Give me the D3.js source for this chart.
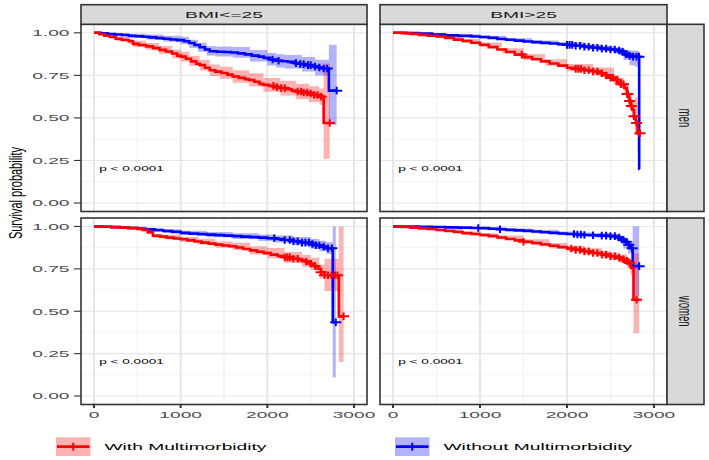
<!DOCTYPE html>
<html>
<head>
<meta charset="utf-8">
<script src="https://cdn.jsdelivr.net/npm/d3@7"></script>
<style>
  body { margin: 0; background: #fff; }
  text { font-family: "Liberation Sans", Arial, sans-serif; }
</style>
</head>
<body>
<svg id="chart" width="709" height="460"></svg>
<script>
// facet labels
var colLabels = ["BMI<=25", "BMI>25"];
var rowLabels = ["men", "women"];
var groupLabels = ["With Multimorbidity", "Without Multimorbidity"];
var groupColors = ["#FF0000", "#0000FF"];
var xTicks = [0, 1000, 2000, 3000];
var yTicks = [0, 0.25, 0.5, 0.75, 1];
var pText = "p < 0.0001";

// ---- BMI<=25, men, with multimorbidity
var leanMenMultiT = [0, 60, 120, 180, 250, 320, 400, 450, 520, 600, 680, 757, 830, 900, 960, 1000, 1060, 1120, 1180, 1220, 1280, 1335, 1400, 1470, 1540, 1600, 1670, 1740, 1790, 1850, 1910, 1955, 2020, 2090, 2150, 2220, 2280, 2330, 2400, 2470, 2540, 2600, 2650];
var leanMenMultiS = [1, .992, .983, .975, .965, .958, .95, .935, .928, .92, .91, .90, .89, .878, .866, .86, .848, .832, .818, .81, .795, .78, .772, .764, .754, .743, .735, .728, .723, .712, .700, .694, .688, .681, .675, .668, .661, .655, .649, .643, .635, .625, .47];
var leanMenMultiBT = [0, 100, 250, 400, 450, 600, 750, 900, 1000, 1100, 1220, 1335, 1450, 1600, 1790, 1955, 2150, 2330, 2480, 2600, 2650];
var leanMenMultiLo = [1, .977, .952, .933, .917, .90, .877, .849, .832, .805, .778, .746, .730, .706, .684, .653, .632, .610, .594, .577, .26];
var leanMenMultiHi = [1, .993, .978, .967, .953, .94, .923, .901, .888, .865, .842, .814, .80, .78, .762, .735, .718, .70, .686, .673, .82];
var leanMenMultiCens = [2070, 2110, 2160, 2200, 2350, 2390, 2420, 2460, 2500, 2540, 2580, 2620, 2720];
var leanMenMultiEnd = 2720;

// ---- BMI<=25, men, without
var leanMenNoneT = [0, 80, 160, 240, 320, 400, 480, 560, 640, 720, 800, 880, 960, 1040, 1100, 1160, 1220, 1280, 1335, 1420, 1500, 1580, 1660, 1740, 1820, 1900, 1960, 2030, 2100, 2170, 2240, 2310, 2380, 2450, 2520, 2590, 2650, 2710];
var leanMenNoneS = [1, .997, .993, .99, .987, .983, .98, .977, .973, .969, .965, .961, .957, .95, .94, .928, .915, .902, .892, .889, .887, .884, .879, .873, .866, .86, .853, .843, .836, .833, .829, .822, .816, .81, .802, .796, .79, .66];
var leanMenNoneBT = [0, 200, 400, 600, 800, 1000, 1100, 1200, 1300, 1400, 1600, 1800, 2000, 2100, 2200, 2400, 2550, 2710];
var leanMenNoneLo = [1, .982, .97, .96, .947, .933, .911, .889, .867, .861, .854, .831, .808, .796, .79, .772, .749, .46];
var leanMenNoneHi = [1, .998, .994, .99, .983, .977, .959, .941, .923, .919, .916, .899, .882, .874, .87, .858, .841, .93];
var leanMenNoneCens = [2060, 2130, 2330, 2380, 2420, 2470, 2500, 2550, 2600, 2650, 2690, 2800];
var leanMenNoneEnd = 2800;

// ---- BMI>25, men, with
var heavyMenMultiT = [0, 100, 200, 300, 400, 500, 600, 700, 800, 900, 1000, 1100, 1200, 1300, 1400, 1500, 1600, 1700, 1800, 1900, 2000, 2100, 2200, 2300, 2380, 2450, 2500, 2540, 2580, 2620, 2660, 2690, 2714, 2735, 2753, 2770, 2790, 2811];
var heavyMenMultiS = [1, .998, .994, .988, .983, .978, .97, .96, .952, .942, .93, .916, .902, .887, .872, .857, .845, .832, .82, .807, .795, .788, .78, .773, .762, .749, .736, .724, .712, .698, .675, .64, .6, .57, .547, .51, .47, .41];
var heavyMenMultiBT = [0, 200, 500, 800, 1000, 1250, 1500, 1750, 2000, 2300, 2540, 2600, 2660, 2710, 2750, 2780, 2811];
var heavyMenMultiLo = [1, .99, .97, .941, .917, .88, .84, .807, .774, .75, .698, .677, .643, .56, .497, .40, .30];
var heavyMenMultiHi = [1, .998, .986, .963, .943, .91, .874, .845, .816, .796, .75, .733, .707, .64, .597, .62, .60];
var heavyMenMultiCens = [1480, 2100, 2130, 2160, 2200, 2250, 2300, 2350, 2400, 2450, 2500, 2530, 2570, 2620, 2650, 2690, 2700, 2720, 2740, 2770, 2800, 2840];
var heavyMenMultiEnd = 2840;

// ---- BMI>25, men, without
var heavyMenNoneT = [0, 150, 300, 450, 600, 750, 900, 1000, 1100, 1200, 1300, 1400, 1500, 1600, 1700, 1800, 1900, 2000, 2100, 2200, 2300, 2400, 2500, 2560, 2610, 2650, 2700, 2760, 2830];
var heavyMenNoneS = [1, .998, .995, .99, .985, .982, .978, .975, .97, .964, .959, .954, .949, .945, .941, .937, .933, .929, .924, .918, .912, .907, .902, .896, .888, .875, .866, .86, .2];
var heavyMenNoneBT = [0, 300, 600, 1000, 1300, 1600, 1900, 2200, 2400, 2550, 2650, 2720, 2780, 2830];
var heavyMenNoneLo = [1, .991, .979, .967, .95, .935, .922, .905, .892, .878, .84, .81, .80, .2];
var heavyMenNoneHi = [1, .999, .991, .983, .968, .955, .944, .931, .922, .914, .9, .896, .895, .2];
var heavyMenNoneCens = [2000, 2030, 2060, 2100, 2150, 2200, 2250, 2300, 2350, 2400, 2450, 2500, 2550, 2600, 2640, 2680, 2720, 2760, 2800, 2828];
var heavyMenNoneEnd = 2835;

// ---- BMI<=25, women, with
var leanWomenMultiT = [0, 100, 200, 300, 400, 500, 560, 620, 680, 760, 840, 920, 1000, 1080, 1160, 1240, 1320, 1400, 1480, 1560, 1640, 1720, 1800, 1880, 1960, 2040, 2120, 2200, 2280, 2360, 2440, 2500, 2540, 2580, 2620, 2660, 2825];
var leanWomenMultiS = [1, .998, .996, .993, .99, .986, .98, .965, .945, .94, .934, .929, .925, .918, .911, .905, .899, .893, .888, .883, .876, .867, .859, .851, .843, .834, .826, .818, .81, .801, .793, .78, .767, .75, .73, .712, .47];
var leanWomenMultiBT = [0, 300, 560, 680, 800, 1000, 1200, 1400, 1600, 1800, 2000, 2200, 2400, 2500, 2600, 2660, 2825];
var leanWomenMultiLo = [1, .988, .972, .933, .925, .91, .893, .874, .862, .834, .813, .786, .762, .745, .695, .62, .2];
var leanWomenMultiHi = [1, .998, .988, .957, .951, .94, .927, .912, .904, .884, .873, .85, .832, .815, .775, .81, 1.0];
var leanWomenMultiCens = [2200, 2230, 2260, 2300, 2350, 2450, 2500, 2550, 2620, 2660, 2700, 2740, 2780, 2810, 2880];
var leanWomenMultiEnd = 2880;

// ---- BMI<=25, women, without
var leanWomenNoneT = [0, 100, 200, 300, 400, 500, 600, 700, 800, 900, 1000, 1100, 1200, 1300, 1400, 1500, 1600, 1700, 1800, 1900, 2000, 2100, 2200, 2300, 2400, 2500, 2560, 2620, 2680, 2755];
var leanWomenNoneS = [1, .998, .996, .994, .991, .987, .983, .978, .973, .968, .962, .958, .955, .952, .949, .946, .943, .94, .937, .934, .931, .926, .92, .913, .905, .897, .889, .881, .872, .435];
var leanWomenNoneBT = [0, 300, 600, 800, 1000, 1300, 1600, 1900, 2100, 2300, 2500, 2600, 2680, 2755];
var leanWomenNoneLo = [1, .989, .974, .962, .949, .937, .926, .915, .905, .888, .868, .854, .837, .11];
var leanWomenNoneHi = [1, .999, .992, .984, .975, .967, .96, .953, .947, .938, .926, .916, .907, 1.0];
var leanWomenNoneCens = [2080, 2200, 2260, 2300, 2350, 2400, 2440, 2480, 2520, 2560, 2600, 2650, 2700, 2745, 2790];
var leanWomenNoneEnd = 2790;

// ---- BMI>25, women, with
var heavyWomenMultiT = [0, 100, 200, 300, 400, 500, 600, 700, 800, 900, 1000, 1100, 1200, 1300, 1400, 1500, 1600, 1700, 1800, 1900, 2000, 2100, 2200, 2300, 2400, 2500, 2560, 2620, 2660, 2700, 2735, 2765];
var heavyWomenMultiS = [1, .997, .993, .989, .985, .979, .973, .967, .961, .956, .95, .943, .935, .926, .918, .91, .902, .894, .886, .878, .87, .862, .853, .844, .834, .824, .816, .806, .797, .784, .756, .568];
var heavyWomenMultiBT = [0, 200, 500, 800, 1000, 1200, 1500, 1800, 2000, 2200, 2400, 2500, 2600, 2690, 2730, 2765];
var heavyWomenMultiLo = [1, .989, .972, .952, .94, .923, .896, .87, .853, .834, .813, .802, .786, .756, .716, .37];
var heavyWomenMultiHi = [1, .997, .986, .97, .96, .947, .924, .902, .887, .872, .855, .846, .834, .816, .796, .84];
var heavyWomenMultiCens = [1500, 2050, 2100, 2150, 2200, 2250, 2300, 2350, 2400, 2450, 2500, 2550, 2600, 2650, 2690, 2720, 2800];
var heavyWomenMultiEnd = 2830;

// ---- BMI>25, women, without
var heavyWomenNoneT = [0, 150, 300, 450, 600, 750, 900, 1000, 1100, 1200, 1300, 1400, 1500, 1600, 1700, 1800, 1900, 2000, 2100, 2200, 2300, 2400, 2500, 2560, 2610, 2650, 2690, 2730, 2755];
var heavyWomenNoneS = [1, .999, .998, .997, .995, .993, .991, .99, .987, .984, .98, .977, .974, .97, .966, .962, .959, .956, .953, .95, .948, .946, .943, .935, .922, .91, .892, .872, .766];
var heavyWomenNoneBT = [0, 400, 800, 1000, 1300, 1600, 1900, 2100, 2300, 2500, 2600, 2650, 2700, 2755];
var heavyWomenNoneLo = [1, .994, .986, .984, .972, .96, .948, .941, .935, .929, .91, .87, .84, .59];
var heavyWomenNoneHi = [1, 1, .996, .996, .988, .98, .97, .965, .961, .957, .946, .932, .913, 1.0];
var heavyWomenNoneCens = [980, 1230, 2080, 2120, 2160, 2200, 2300, 2400, 2450, 2500, 2550, 2600, 2640, 2680, 2710, 2750, 2830];
var heavyWomenNoneEnd = 2830;

function curve(t, s, bt, lo, hi, cens, end, g) {
  return { t: t, s: s, bt: bt, lo: lo, hi: hi, cens: cens, end: end, g: g };
}

var panels = [
  { row: 0, col: 0, curves: [
    curve(leanMenNoneT, leanMenNoneS, leanMenNoneBT, leanMenNoneLo, leanMenNoneHi, leanMenNoneCens, leanMenNoneEnd, 1),
    curve(leanMenMultiT, leanMenMultiS, leanMenMultiBT, leanMenMultiLo, leanMenMultiHi, leanMenMultiCens, leanMenMultiEnd, 0)] },
  { row: 0, col: 1, curves: [
    curve(heavyMenNoneT, heavyMenNoneS, heavyMenNoneBT, heavyMenNoneLo, heavyMenNoneHi, heavyMenNoneCens, heavyMenNoneEnd, 1),
    curve(heavyMenMultiT, heavyMenMultiS, heavyMenMultiBT, heavyMenMultiLo, heavyMenMultiHi, heavyMenMultiCens, heavyMenMultiEnd, 0)] },
  { row: 1, col: 0, curves: [
    curve(leanWomenNoneT, leanWomenNoneS, leanWomenNoneBT, leanWomenNoneLo, leanWomenNoneHi, leanWomenNoneCens, leanWomenNoneEnd, 1),
    curve(leanWomenMultiT, leanWomenMultiS, leanWomenMultiBT, leanWomenMultiLo, leanWomenMultiHi, leanWomenMultiCens, leanWomenMultiEnd, 0)] },
  { row: 1, col: 1, curves: [
    curve(heavyWomenNoneT, heavyWomenNoneS, heavyWomenNoneBT, heavyWomenNoneLo, heavyWomenNoneHi, heavyWomenNoneCens, heavyWomenNoneEnd, 1),
    curve(heavyWomenMultiT, heavyWomenMultiS, heavyWomenMultiBT, heavyWomenMultiLo, heavyWomenMultiHi, heavyWomenMultiCens, heavyWomenMultiEnd, 0)] }
];

var cols = [{ x0: 81, x1: 367 }, { x0: 380, x1: 667 }];
var rows = [{ y0: 24.3, y1: 211.5 }, { y0: 218, y1: 404.5 }];
var stripTop = 4.7, stripRight = 704;
var SX = 2; // the picture's text is stretched sideways
var FS = 9.6;

var svg = d3.select("#chart");

function stretchedText(sel, x, y, str, size, anchor, color, rot) {
  return sel.append("text")
    .attr("transform", "translate(" + x + "," + y + ") scale(" + SX + ",1)" + (rot ? " rotate(" + rot + ")" : ""))
    .attr("text-anchor", anchor)
    .attr("dy", "0.35em")
    .style("font-size", size + "px")
    .style("fill", color)
    .text(str);
}

panels.forEach(function (p) {
  var c = cols[p.col], r = rows[p.row];
  var x = d3.scaleLinear().domain([-150, 3150]).range([c.x0, c.x1]);
  var y = d3.scaleLinear().domain([-0.05, 1.05]).range([r.y1, r.y0]);
  var g = svg.append("g");

  g.append("rect").attr("x", c.x0).attr("y", r.y0)
    .attr("width", c.x1 - c.x0).attr("height", r.y1 - r.y0).attr("fill", "#fff");

  // minor grid
  [500, 1500, 2500].forEach(function (v) {
    g.append("line").attr("x1", x(v)).attr("x2", x(v)).attr("y1", r.y0).attr("y2", r.y1)
      .attr("stroke", "#f3f3f3").attr("stroke-width", 1.4);
  });
  [0.125, 0.375, 0.625, 0.875].forEach(function (v) {
    g.append("line").attr("x1", c.x0).attr("x2", c.x1).attr("y1", y(v)).attr("y2", y(v))
      .attr("stroke", "#f3f3f3").attr("stroke-width", 0.8);
  });
  // major grid
  xTicks.forEach(function (v) {
    g.append("line").attr("x1", x(v)).attr("x2", x(v)).attr("y1", r.y0).attr("y2", r.y1)
      .attr("stroke", "#e6e6e6").attr("stroke-width", 2);
  });
  yTicks.forEach(function (v) {
    g.append("line").attr("x1", c.x0).attr("x2", c.x1).attr("y1", y(v)).attr("y2", y(v))
      .attr("stroke", "#e6e6e6").attr("stroke-width", 1.1);
  });

  var line = d3.line().curve(d3.curveStepAfter)
    .x(function (d) { return x(d[0]); }).y(function (d) { return y(d[1]); });
  var area = d3.area().curve(d3.curveStepAfter)
    .x(function (d) { return x(d[0]); }).y0(function (d) { return y(d[1]); }).y1(function (d) { return y(d[2]); });

  // confidence bands
  p.curves.forEach(function (cv) {
    var pts = cv.bt.map(function (t, i) { return [t, cv.lo[i], cv.hi[i]]; });
    var n = cv.bt.length - 1;
    pts.push([cv.end, cv.lo[n], cv.hi[n]]);
    g.append("path").attr("d", area(pts))
      .attr("fill", groupColors[cv.g]).attr("fill-opacity", 0.3);
  });

  // survival steps + censor marks
  var bis = d3.bisector(function (d) { return d; }).right;
  p.curves.forEach(function (cv) {
    var pts = cv.t.map(function (t, i) { return [t, cv.s[i]]; });
    pts.push([cv.end, cv.s[cv.s.length - 1]]);
    g.append("path").attr("d", line(pts))
      .attr("fill", "none").attr("stroke", groupColors[cv.g]).attr("stroke-width", 2.6);

    cv.cens.forEach(function (t) {
      var i = Math.max(0, bis(cv.t, t) - 1);
      var cx = x(t), cy = y(cv.s[i]);
      g.append("path").attr("d", "M" + (cx - 5.5) + "," + cy + "H" + (cx + 5.5) + "M" + cx + "," + (cy - 3.8) + "V" + (cy + 3.8))
        .attr("stroke", groupColors[cv.g]).attr("stroke-width", 2).attr("fill", "none");
    });
  });

  stretchedText(g, x(60), y(0.2), pText, 6.8, "start", "#000");

  g.append("rect").attr("x", c.x0).attr("y", r.y0)
    .attr("width", c.x1 - c.x0).attr("height", r.y1 - r.y0)
    .attr("fill", "none").attr("stroke", "#333").attr("stroke-width", 1.6);

  if (p.row === 0) {
    g.append("rect").attr("x", c.x0).attr("y", stripTop)
      .attr("width", c.x1 - c.x0).attr("height", r.y0 - stripTop)
      .attr("fill", "#d9d9d9").attr("stroke", "#333").attr("stroke-width", 1.6);
    stretchedText(g, (c.x0 + c.x1) / 2, (stripTop + r.y0) / 2, colLabels[p.col], FS, "middle", "#1a1a1a");
  }
  if (p.col === 1) {
    g.append("rect").attr("x", c.x1).attr("y", r.y0)
      .attr("width", stripRight - c.x1).attr("height", r.y1 - r.y0)
      .attr("fill", "#d9d9d9").attr("stroke", "#333").attr("stroke-width", 1.6);
    stretchedText(g, (c.x1 + stripRight) / 2, (r.y0 + r.y1) / 2, rowLabels[p.row], FS, "middle", "#1a1a1a", 90);
  }
  if (p.col === 0) {
    yTicks.forEach(function (v) {
      g.append("line").attr("x1", c.x0 - 7).attr("x2", c.x0).attr("y1", y(v)).attr("y2", y(v))
        .attr("stroke", "#333").attr("stroke-width", 1.1);
      stretchedText(g, c.x0 - 11.5, y(v), d3.format(".2f")(v), FS, "end", "#4d4d4d");
    });
  }
  if (p.row === 1) {
    xTicks.forEach(function (v) {
      g.append("line").attr("x1", x(v)).attr("x2", x(v)).attr("y1", r.y1).attr("y2", r.y1 + 3.5)
        .attr("stroke", "#333").attr("stroke-width", 2);
      stretchedText(g, x(v), r.y1 + 10.5, String(v), FS, "middle", "#4d4d4d");
    });
  }
});

// y title
svg.append("text")
  .attr("transform", "translate(16,193) scale(1.6,1) rotate(-90)")
  .attr("text-anchor", "middle").attr("dy", "0.35em")
  .style("font-size", "11px").style("fill", "#000")
  .text("Survival probability");

// legend
var legendX = [56, 395];
groupLabels.forEach(function (lab, i) {
  var lx = legendX[i], ly = 437.3, kw = 34.5, kh = 18.7;
  svg.append("rect").attr("x", lx).attr("y", ly).attr("width", kw).attr("height", kh)
    .attr("fill", groupColors[i]).attr("fill-opacity", 0.3);
  svg.append("line").attr("x1", lx + 1).attr("x2", lx + kw - 1).attr("y1", ly + kh / 2).attr("y2", ly + kh / 2)
    .attr("stroke", groupColors[i]).attr("stroke-width", 2.6);
  svg.append("line").attr("x1", lx + kw / 2).attr("x2", lx + kw / 2).attr("y1", ly + kh / 2 - 4).attr("y2", ly + kh / 2 + 4)
    .attr("stroke", groupColors[i]).attr("stroke-width", 2);
  stretchedText(svg, lx + kw + 14, ly + kh / 2, lab, FS, "start", "#000");
});
</script>
</body>
</html>
